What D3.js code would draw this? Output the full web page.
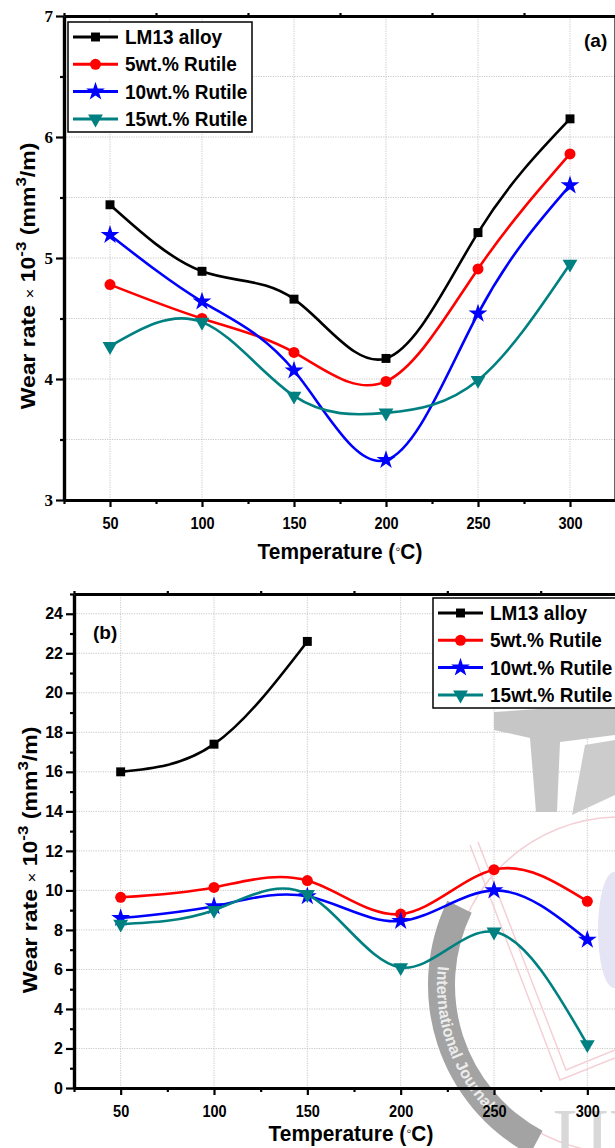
<!DOCTYPE html>
<html>
<head>
<meta charset="utf-8">
<script src="https://cdn.jsdelivr.net/npm/d3@7"></script>
<style>
  body { margin: 0; background: #fff; }
  svg { display: block; font-family: "Liberation Sans", Arial, sans-serif; }
  .grid line { stroke: #c8c8c8; stroke-width: 1; stroke-dasharray: 1.2 1.2; }
  .axis path, .axis line { stroke: #000; }
</style>
</head>
<body>
<svg width="615" height="1148"></svg>
<script>
// temperatures (°C)
var temps = [50, 100, 150, 200, 250, 300];
var seriesNames = ["LM13 alloy", "5wt.% Rutile", "10wt.% Rutile", "15wt.% Rutile"];
var seriesColors = ["#000000", "#ff0000", "#0000ff", "#008080"];

// panel (a) wear rate x 10^-3 mm3/m
var aLM13   = [5.44, 4.89, 4.66, 4.17, 5.21, 6.15];
var aRut5   = [4.78, 4.50, 4.22, 3.98, 4.91, 5.86];
var aRut10  = [5.19, 4.64, 4.07, 3.33, 4.54, 5.60];
var aRut15  = [4.27, 4.47, 3.86, 3.72, 3.99, 4.95];

// panel (b)
var bLM13   = [16.0, 17.4, 22.6];
var bRut5   = [9.65, 10.15, 10.5, 8.8, 11.05, 9.45];
var bRut10  = [8.6, 9.2, 9.7, 8.45, 10.0, 7.5];
var bRut15  = [8.3, 9.0, 9.8, 6.1, 7.9, 2.2];

var xMajor = [50, 100, 150, 200, 250, 300];
var xMinor = [25, 75, 125, 175, 225, 275, 325];
var aYLabels = [3, 4, 5, 6, 7];
var aYMinor = [3.5, 4.5, 5.5, 6.5];
var bYLabels = [0, 2, 4, 6, 8, 10, 12, 14, 16, 18, 20, 22, 24];
var bYMinor = [1, 3, 5, 7, 9, 11, 13, 15, 17, 19, 21, 23, 25];

var svg = d3.select("svg");
var symbols = [d3.symbolSquare, d3.symbolCircle, d3.symbolStar, d3.symbolTriangle];
var symSize = [80, 95, 110, 95];

// journal watermark behind panel (b)
function drawWatermark(g) {
    var w = g.append("g").attr("class", "watermark");
    w.append("polygon")
      .attr("points", "494,712 615,704 615,735 560,742 557,812 536,812 530,738 494,730")
      .attr("fill", "#c6c6c6");
    w.append("polygon")
      .attr("points", "585,745 615,740 615,795 572,815")
      .attr("fill", "#cccccc");
    w.append("ellipse")
      .attr("cx", 614).attr("cy", 930).attr("rx", 16).attr("ry", 58)
      .attr("fill", "#e4e4f4");
    w.append("circle")
      .attr("cx", 620).attr("cy", 985).attr("r", 168)
      .attr("fill", "none").attr("stroke", "#f4d0d6").attr("stroke-width", 1.5);
    w.append("polyline")
      .attr("points", "470,845 560,1080 615,1058")
      .attr("fill", "none").attr("stroke", "#f4d0d6").attr("stroke-width", 1.5);
    w.append("polyline")
      .attr("points", "478,842 566,1070 615,1050")
      .attr("fill", "none").attr("stroke", "#f4d0d6").attr("stroke-width", 1.5);
    var ring = d3.arc()
      .innerRadius(165).outerRadius(192)
      .startAngle(208 * Math.PI / 180).endAngle(296 * Math.PI / 180);
    w.append("path")
      .attr("transform", "translate(620,985)")
      .attr("d", ring())
      .attr("fill", "#a3a3a3");
    var r = 183, a0 = 290 * Math.PI / 180, a1 = 200 * Math.PI / 180;
    w.append("path")
      .attr("id", "ringPath")
      .attr("fill", "none")
      .attr("d", "M" + (620 + r * Math.sin(a0)) + "," + (985 - r * Math.cos(a0)) +
        " A" + r + "," + r + " 0 0 0 " + (620 + r * Math.sin(a1)) + "," + (985 - r * Math.cos(a1)));
    w.append("text")
      .attr("fill", "#ececec")
      .style("font-size", "16px")
      .style("font-weight", "bold")
      .append("textPath")
      .attr("href", "#ringPath")
      .attr("startOffset", 45)
      .text("International Journal");
    w.append("text")
      .attr("x", 552).attr("y", 1162)
      .attr("fill", "#d8d8d8")
      .style("font-family", "Liberation Serif, serif")
      .style("font-size", "78px")
      .text("IJI");
}

function drawPanel(cfg) {
    var x = d3.scaleLinear().domain([25, 325]).range(cfg.xRange);
    var y = d3.scaleLinear().domain(cfg.yDomain).range(cfg.yRange);
    var g = svg.append("g");
    var x0 = cfg.xRange[0], x1 = cfg.xRange[1], y0 = cfg.yRange[0], y1 = cfg.yRange[1];

    // grid
    g.append("g").attr("class", "grid")
      .selectAll("line.v").data(xMajor).enter().append("line")
      .attr("x1", function(d) { return x(d); }).attr("x2", function(d) { return x(d); })
      .attr("y1", y0).attr("y2", y1);
    g.append("g").attr("class", "grid")
      .selectAll("line.h").data(cfg.yGrid).enter().append("line")
      .attr("y1", function(d) { return y(d); }).attr("y2", function(d) { return y(d); })
      .attr("x1", x0).attr("x2", x1);

    if (cfg.watermark) drawWatermark(g);

    // curves
    var line = d3.line()
      .x(function(d) { return x(d[0]); })
      .y(function(d) { return y(d[1]); })
      .curve(d3.curveNatural);

    cfg.series.forEach(function(vals, i) {
        var pts = vals.map(function(v, j) { return [temps[j], v]; });
        g.append("path")
          .datum(pts)
          .attr("fill", "none")
          .attr("stroke", seriesColors[i])
          .attr("stroke-width", 2.6)
          .attr("d", line);
        g.selectAll(null)
          .data(pts)
          .enter().append("path")
          .attr("transform", function(d) {
              return "translate(" + x(d[0]) + "," + y(d[1]) + ")" + (i == 3 ? " rotate(180)" : "");
          })
          .attr("d", d3.symbol().type(symbols[i]).size(symSize[i]))
          .attr("fill", seriesColors[i]);
    });

    // axes
    var bottom = g.append("g").attr("class", "axis")
      .attr("transform", "translate(0," + y0 + ")")
      .call(d3.axisBottom(x).tickValues(xMajor).tickSize(7).tickPadding(10).tickSizeOuter(0));
    bottom.selectAll("text")
      .attr("transform", "scale(0.88,1)")
      .style("font-size", "16.5px").style("font-weight", "bold").style("font-family", "Liberation Sans, Arial, sans-serif");
    g.append("g").attr("class", "axis")
      .attr("transform", "translate(0," + y0 + ")")
      .call(d3.axisBottom(x).tickValues(xMinor).tickSize(4).tickFormat("").tickSizeOuter(0));

    var left = g.append("g").attr("class", "axis")
      .attr("transform", "translate(" + x0 + ",0)")
      .call(d3.axisLeft(y).tickValues(cfg.yLabels).tickFormat(d3.format("d"))
        .tickSize(8).tickPadding(3).tickSizeOuter(0));
    left.selectAll("text")
      .style("font-size", cfg.yFontSize).style("font-weight", "bold").style("font-family", cfg.yFont);
    g.append("g").attr("class", "axis")
      .attr("transform", "translate(" + x0 + ",0)")
      .call(d3.axisLeft(y).tickValues(cfg.yMinor).tickSize(4).tickFormat("").tickSizeOuter(0));

    g.append("g").attr("class", "axis")
      .attr("transform", "translate(0," + y1 + ")")
      .call(d3.axisTop(x).tickValues(xMinor).tickSize(3).tickFormat("").tickSizeOuter(0));

    g.selectAll(".axis line").attr("stroke-width", 2.2);
    g.selectAll(".axis path.domain").attr("stroke-width", 3.2);
    g.append("line").attr("x1", x1).attr("x2", x1).attr("y1", y0).attr("y2", y1)
      .attr("stroke", "#000").attr("stroke-width", 3.2);

    // axis titles
    g.append("text")
      .attr("transform", "translate(" + cfg.xTitlePos[0] + "," + cfg.xTitlePos[1] + ") scale(0.95,1)")
      .attr("text-anchor", "middle")
      .style("font-size", "22px").style("font-weight", "bold")
      .call(function(t) {
          t.append("tspan").text("Temperature (");
          t.append("tspan").style("font-weight", "normal").style("font-size", "15px").attr("dy", -5).text("\u25E6");
          t.append("tspan").attr("dy", 5).text("C)");
      });

    var yt = g.append("text")
      .attr("transform", "translate(" + cfg.yTitlePos[0] + "," + cfg.yTitlePos[1] + ") scale(0.88,1) rotate(-90)")
      .attr("text-anchor", "middle")
      .style("font-size", "23px").style("font-weight", "bold");
    yt.append("tspan").text("Wear rate ");
    yt.append("tspan").style("font-weight", "normal").style("font-size", "17px").text("\u00D7");
    yt.append("tspan").text(" 10");
    yt.append("tspan").attr("dy", -10).style("font-size", "17px").text("-3");
    yt.append("tspan").attr("dy", 10).text(" (mm");
    yt.append("tspan").attr("dy", -10).style("font-size", "17px").text("3");
    yt.append("tspan").attr("dy", 10).text("/m)");

    // panel tag
    g.append("text")
      .attr("x", cfg.tagPos[0]).attr("y", cfg.tagPos[1])
      .style("font-size", "19px").style("font-weight", "bold")
      .text(cfg.tag);

    // legend
    var L = cfg.legend;
    var lg = g.append("g").attr("transform", "translate(" + L.x + "," + L.y + ")");
    lg.append("rect")
      .attr("width", L.w).attr("height", 110)
      .attr("fill", "#fff").attr("stroke", "#000").attr("stroke-width", 1.5);
    seriesNames.forEach(function(name, i) {
        var cy = 15 + i * 27.3;
        lg.append("line")
          .attr("x1", 5).attr("x2", 50).attr("y1", cy).attr("y2", cy)
          .attr("stroke", seriesColors[i]).attr("stroke-width", 3);
        lg.append("path")
          .attr("transform", "translate(27.5," + cy + ")" + (i == 3 ? " rotate(180)" : ""))
          .attr("d", d3.symbol().type(symbols[i]).size(symSize[i]))
          .attr("fill", seriesColors[i]);
        lg.append("text")
          .attr("transform", "translate(57," + (cy + 7) + ") scale(0.95,1)")
          .style("font-size", "20px").style("font-weight", "bold")
          .text(name);
    });
}

drawPanel({
    series: [aLM13, aRut5, aRut10, aRut15],
    xRange: [64, 616],
    yDomain: [3, 7],
    yRange: [500, 16],
    yGrid: [3.5, 4, 4.5, 5, 5.5, 6, 6.5],
    yLabels: aYLabels,
    yMinor: aYMinor,
    yFont: "Liberation Serif, serif",
    yFontSize: "17px",
    xTitlePos: [340, 559],
    yTitlePos: [35, 276],
    tag: "(a)",
    tagPos: [584, 47],
    legend: {x: 68, y: 22, w: 184}
});

drawPanel({
    series: [bLM13, bRut5, bRut10, bRut15],
    xRange: [74, 634],
    yDomain: [0, 25],
    yRange: [1088, 594],
    yGrid: [2, 4, 6, 8, 10, 12, 14, 16, 18, 20, 22, 24],
    yLabels: bYLabels,
    yMinor: bYMinor,
    yFont: "Liberation Sans, Arial, sans-serif",
    yFontSize: "16px",
    xTitlePos: [351, 1141],
    yTitlePos: [37, 860],
    tag: "(b)",
    tagPos: [93, 639],
    legend: {x: 433, y: 598, w: 190},
    watermark: true
});
</script>
</body>
</html>
